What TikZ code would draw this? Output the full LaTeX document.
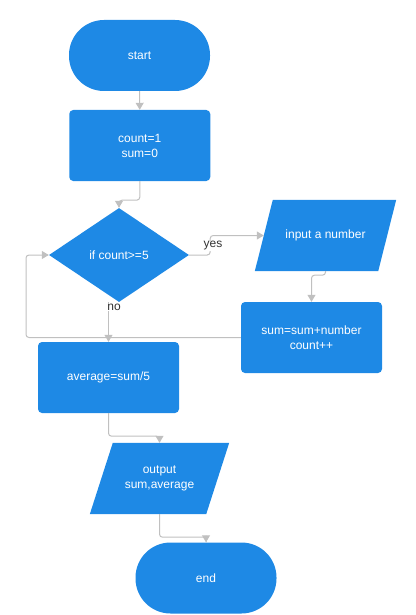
\documentclass[tikz,border=0pt]{standalone}
\usepackage{fontspec}
\setmainfont{Liberation Sans}
\usetikzlibrary{shapes.geometric,arrows.meta,backgrounds}
\definecolor{boxblue}{RGB}{30,137,229}
\definecolor{linegray}{RGB}{192,192,192}
\tikzset{
  base/.style={fill=boxblue, draw=none, text=white, align=center, inner sep=0pt,
    font=\fontsize{12}{15}\selectfont},
  termbox/.style={base, rectangle, rounded corners=35pt, minimum width=141pt, minimum height=71pt},
  procbox/.style={base, rectangle, rounded corners=4pt, minimum width=141pt, minimum height=71pt},
  decbox/.style={base, diamond, minimum width=140pt, minimum height=94pt},
  iobox/.style={base, fill=none, rectangle, minimum height=71pt},
  conn/.style={draw=linegray, line width=1pt, rounded corners=3pt,
    -{Triangle[width=8pt,length=7pt]}},
  lbl/.style={fill=white, inner sep=1pt, text=black!80, font=\fontsize{12}{14}\selectfont}
}
\begin{document}
\begin{tikzpicture}[x=1pt,y=-1pt]
\useasboundingbox (0,0) rectangle (415,615);
\node[termbox] (start) at (139.5,55.5) {start};
\node[procbox] (count) at (139.75,145.5) {count=1\\sum=0};
\node[decbox] (dia) at (119,255) {if count>=5};
\node[iobox, minimum width=123pt] (inp) at (325.5,235.5) {input a number};
\node[procbox] (sum) at (311.5,337.5) {sum=sum+number\\count++};
\node[procbox] (avg) at (108.5,377.5) {average=sum/5};
\node[iobox, minimum width=116pt] (out) at (159.5,478.5) {output\\sum,average};
\node[termbox] (end) at (206,578) {end};
\coordinate (lp) at (26,255);
\begin{scope}[on background layer]
  \fill[boxblue] ([xshift=9pt]inp.north west) -- ([xshift=9pt]inp.north east)
    -- ([xshift=-9pt]inp.south east) -- ([xshift=-9pt]inp.south west) -- cycle;
  \fill[boxblue] ([xshift=11.5pt]out.north west) -- ([xshift=11.5pt]out.north east)
    -- ([xshift=-11.5pt]out.south east) -- ([xshift=-11.5pt]out.south west) -- cycle;
\end{scope}

\draw[conn] (start.south) -- (count.north);
\draw[conn] (count.south) -- ++(0,19) -| (dia.north);
\draw[conn] (dia.east) -- ++(21,0) |- (inp.west);
\draw[conn] (inp.south) -- ++(0,4) -| (sum.north);
\draw[conn] (sum.west) -| (lp) -- (dia.west);
\draw[conn] (avg.north |- dia.south) -- (avg.north);
\draw[conn] (avg.south) -- ++(0,23) -| (out.north);
\draw[conn] (out.south) -- ++(0,23) -| (end.north);

\node[lbl] (yes) at (213,246) {yes};
\node[lbl] (no) at (114,307) {no};
\end{tikzpicture}
\end{document}
